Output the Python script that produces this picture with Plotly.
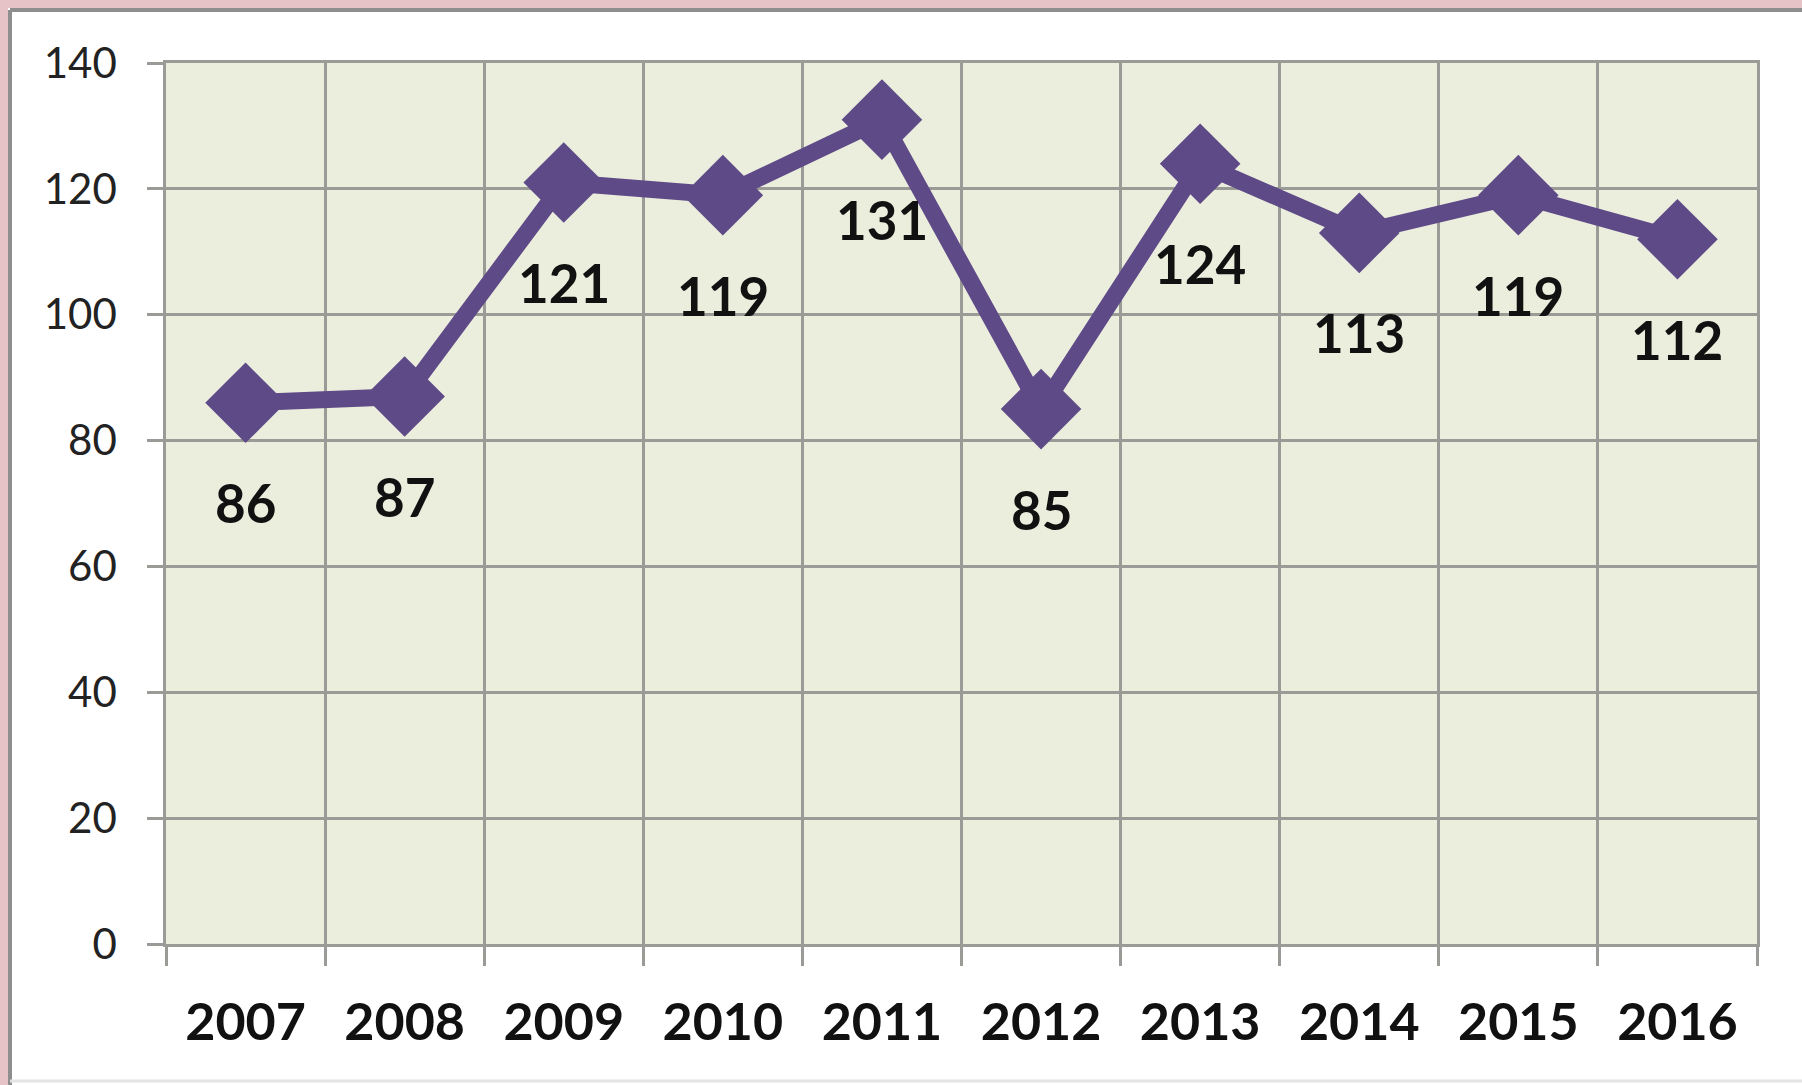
import plotly.graph_objects as go

years = ["2007", "2008", "2009", "2010", "2011", "2012", "2013", "2014", "2015", "2016"]
values = [86, 87, 121, 119, 131, 85, 124, 113, 119, 112]
y_ticks = [0, 20, 40, 60, 80, 100, 120, 140]

W, H = 1802, 1085
L, R, T, B = 166, 45, 63, 141
pw, ph = W - L - R, H - T - B

def px_x(p):
    return (p - L) / pw

def px_y(p):
    return (H - B - p) / ph

PURPLE = "#5F4A88"
GRID = "#9A9B96"

fig = go.Figure()
fig.add_trace(go.Scatter(
    x=years, y=values, mode="lines+markers",
    line=dict(color=PURPLE, width=17),
    marker=dict(symbol="diamond", size=62, color=PURPLE),
    showlegend=False, hoverinfo="skip",
))

for i, v in enumerate(values):
    fig.add_annotation(x=i, y=v, text=str(v), showarrow=False,
                       yshift=-100, xanchor="center", yanchor="middle",
                       font=dict(family="Lato", size=53, color="#111111", weight="bold"))

# frame decorations: pink outer border, gray inner line
shapes = [
    dict(type="rect", xref="paper", yref="paper", x0=px_x(-5), x1=px_x(8), y0=px_y(H + 5), y1=px_y(-5),
         fillcolor="#E6C3C7", line=dict(width=0), layer="below"),
    dict(type="rect", xref="paper", yref="paper", x0=px_x(-5), x1=px_x(W + 5), y0=px_y(8), y1=px_y(-5),
         fillcolor="#E6C3C7", line=dict(width=0), layer="below"),
    dict(type="line", xref="paper", yref="paper", x0=px_x(10), x1=px_x(10), y0=px_y(10), y1=px_y(H + 5),
         line=dict(color="#8E8E8E", width=4), layer="below"),
    dict(type="line", xref="paper", yref="paper", x0=px_x(10), x1=px_x(W + 5), y0=px_y(10), y1=px_y(10),
         line=dict(color="#8E8E8E", width=4), layer="below"),
    dict(type="line", xref="paper", yref="paper", x0=px_x(10), x1=px_x(W + 5), y0=px_y(1081), y1=px_y(1081),
         line=dict(color="#E4E4E4", width=3), layer="below"),
]

fig.update_layout(
    width=W, height=H,
    margin=dict(l=L, r=R, t=T, b=B, autoexpand=False),
    paper_bgcolor="white",
    plot_bgcolor="#EBEEDD",
    shapes=shapes,
    xaxis=dict(
        type="category", tickson="boundaries",
        showgrid=True, gridcolor=GRID, gridwidth=2.5,
        showline=True, linecolor=GRID, linewidth=2.5, mirror=True,
        ticks="outside", ticklen=19, tickwidth=2.5, tickcolor=GRID,
        tickfont=dict(family="Lato", size=52, color="#111111", weight="bold"),
        ticklabelstandoff=31,
        range=[-0.5, 9.5], fixedrange=True,
    ),
    yaxis=dict(
        range=[0, 140], tickvals=y_ticks,
        showgrid=True, gridcolor=GRID, gridwidth=2.5,
        showline=True, linecolor=GRID, linewidth=2.5, mirror=True,
        ticks="outside", ticklen=16, tickwidth=2.5, tickcolor=GRID,
        tickfont=dict(family="Lato", size=42, color="#222222"),
        ticklabelstandoff=22,
        zeroline=False, fixedrange=True,
    ),
)

fig.write_html("out.html", config={"displayModeBar": False},
               post_script="document.body.style.margin='0';document.body.style.overflow='hidden';")
